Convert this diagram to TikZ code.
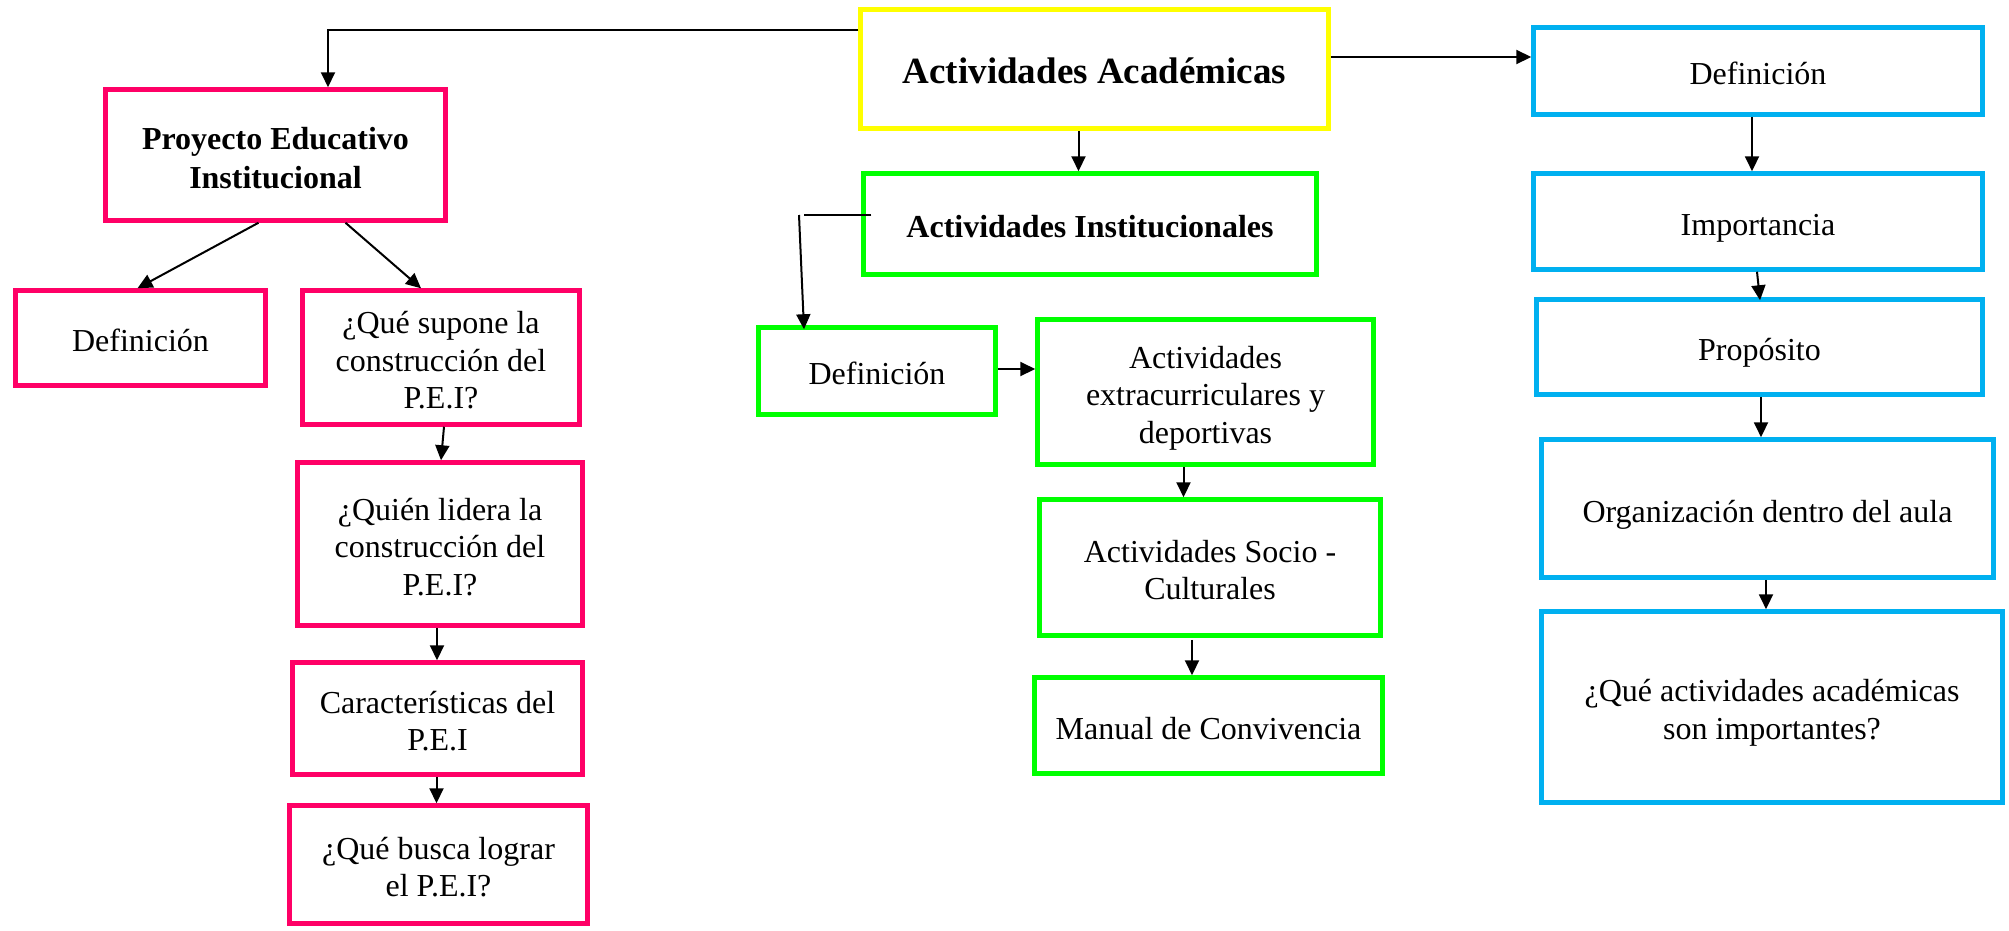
\documentclass[tikz,border=0pt]{standalone}
\usepackage{fontspec}
\setmainfont{Liberation Serif}
\usetikzlibrary{arrows.meta}
\definecolor{pinkc}{HTML}{FF0066}
\definecolor{yelc}{HTML}{FFFF00}
\definecolor{grnc}{HTML}{00FF00}
\definecolor{bluc}{HTML}{00B0F0}
\newcommand\txtn{\fontsize{32pt}{37.5pt}\selectfont}
\newcommand\txtb{\fontsize{32pt}{39pt}\selectfont\bfseries}
\newcommand\txtbig{\fontsize{37pt}{42pt}\selectfont\bfseries}
\newcommand\boxtxt[1]{\raisebox{-6pt}[\height][\depth]{\begin{tabular}{@{}c@{}}#1\end{tabular}}}
\tikzset{
  box/.style={draw, line width=4.5pt, inner sep=0pt, align=center, font=\txtn},
  pinkbox/.style={box, draw=pinkc},
  yelbox/.style={box, draw=yelc},
  grnbox/.style={box, draw=grnc},
  blubox/.style={box, draw=bluc},
  conn/.style={line width=2pt, black},
  arr/.style={conn, -{Triangle[length=15pt,width=14pt]}},
  wh/.style n args={2}{minimum width=#1pt, minimum height=#2pt}
}
\begin{document}
\begin{tikzpicture}[x=1pt,y=-1pt]
\fill[white] (0,0) rectangle (2009,930);
\useasboundingbox (0,0) rectangle (2009,930);
% top
\node[yelbox, wh={468}{119}, font=\txtbig] (aa) at (1094.5,69) {\boxtxt{Actividades Académicas}};
% left column (pink)
\node[pinkbox, wh={340}{131}, font=\txtb] (pei) at (275.5,155) {\boxtxt{Proyecto Educativo\\Institucional}};
\node[pinkbox, wh={250}{95}] (def1) at (140.5,338) {\boxtxt{Definición}};
\node[pinkbox, wh={277}{134}] (sup) at (441,357.5) {\boxtxt{¿Qué supone la\\construcción del\\P.E.I?}};
\node[pinkbox, wh={285}{163}] (qui) at (440,544) {\boxtxt{¿Quién lidera la\\construcción del\\P.E.I?}};
\node[pinkbox, wh={290}{112}] (car) at (437.5,718.5) {\boxtxt{Características del\\P.E.I}};
\node[pinkbox, wh={298}{118}] (bus) at (438.5,864.5) {\boxtxt{¿Qué busca lograr\\el P.E.I?}};
% middle column (green)
\node[grnbox, wh={453}{101}, font=\txtb] (ai) at (1090,224) {\boxtxt{Actividades Institucionales}};
\node[grnbox, wh={237}{87}] (def2) at (877,371) {\boxtxt{Definición}};
\node[grnbox, wh={336}{145}] (ext) at (1205.5,392) {\boxtxt{Actividades\\extracurriculares y\\deportivas}};
\node[grnbox, wh={341}{136}] (soc) at (1210,567.5) {\boxtxt{Actividades Socio -\\Culturales}};
\node[grnbox, wh={348}{96}] (man) at (1208.5,725.5) {\boxtxt{Manual de Convivencia}};
% right column (blue)
\node[blubox, wh={449}{87}] (def3) at (1758,71) {\boxtxt{Definición}};
\node[blubox, wh={449}{96}] (imp) at (1758,221.5) {\boxtxt{Importancia}};
\node[blubox, wh={446}{95}] (pro) at (1759.5,347) {\boxtxt{Propósito}};
\node[blubox, wh={452}{138}] (org) at (1767.5,508.5) {\boxtxt{Organización dentro del aula}};
\node[blubox, wh={461}{191}] (qac) at (1772,707) {\boxtxt{¿Qué actividades académicas\\son importantes?}};
% connectors: top to left
\draw[arr] ([yshift=39pt]aa.west) -| ([xshift=52.5pt]pei.north);
\draw[arr] ([xshift=-17pt]pei.south) -- ([xshift=-3pt]def1.north);
\draw[arr] ([xshift=70pt]pei.south) -- ([xshift=-20pt]sup.north);
\draw[arr] ([xshift=3pt]sup.south) -- ([xshift=1pt]qui.north);
\draw[arr] ([xshift=-3pt]qui.south) -- ([xshift=-3pt]qui.south |- car.north);
\draw[arr] ([xshift=-1pt]car.south) -- ([xshift=-1pt]car.south |- bus.north);
% connectors: middle
\draw[arr] ([xshift=-16pt]aa.south) -- ([xshift=-16pt]aa.south |- ai.north);
\coordinate (k1) at (799,215);
\draw[conn] ([xshift=10pt]ai.west |- k1) -- ([xshift=5pt]k1);
\draw[arr] (k1) -- ([xshift=-73pt,yshift=-4pt]def2.north);
\draw[arr] ([yshift=2pt]def2.east) -- ([yshift=2pt]def2.east -| ext.west);
\draw[arr] ([xshift=-22pt]ext.south) -- ([xshift=-22pt]ext.south |- soc.north);
\draw[arr] ([xshift=-18pt,yshift=-2pt]soc.south) -- ([xshift=-18pt]soc.south |- man.north);
% connectors: right
\draw[arr] ([yshift=12pt]aa.east) -- ([yshift=12pt]aa.east -| def3.west);
\draw[arr] ([xshift=-6pt]def3.south) -- ([xshift=-6pt]def3.south |- imp.north);
\draw[arr] ([xshift=-1pt]imp.south) -- ([xshift=0.5pt,yshift=-3pt]pro.north);
\draw[arr] ([xshift=1.5pt]pro.south) -- ([xshift=1.5pt]pro.south |- org.north);
\draw[arr] ([xshift=-1.5pt]org.south) -- ([xshift=-1.5pt]org.south |- qac.north);
\end{tikzpicture}
\end{document}
